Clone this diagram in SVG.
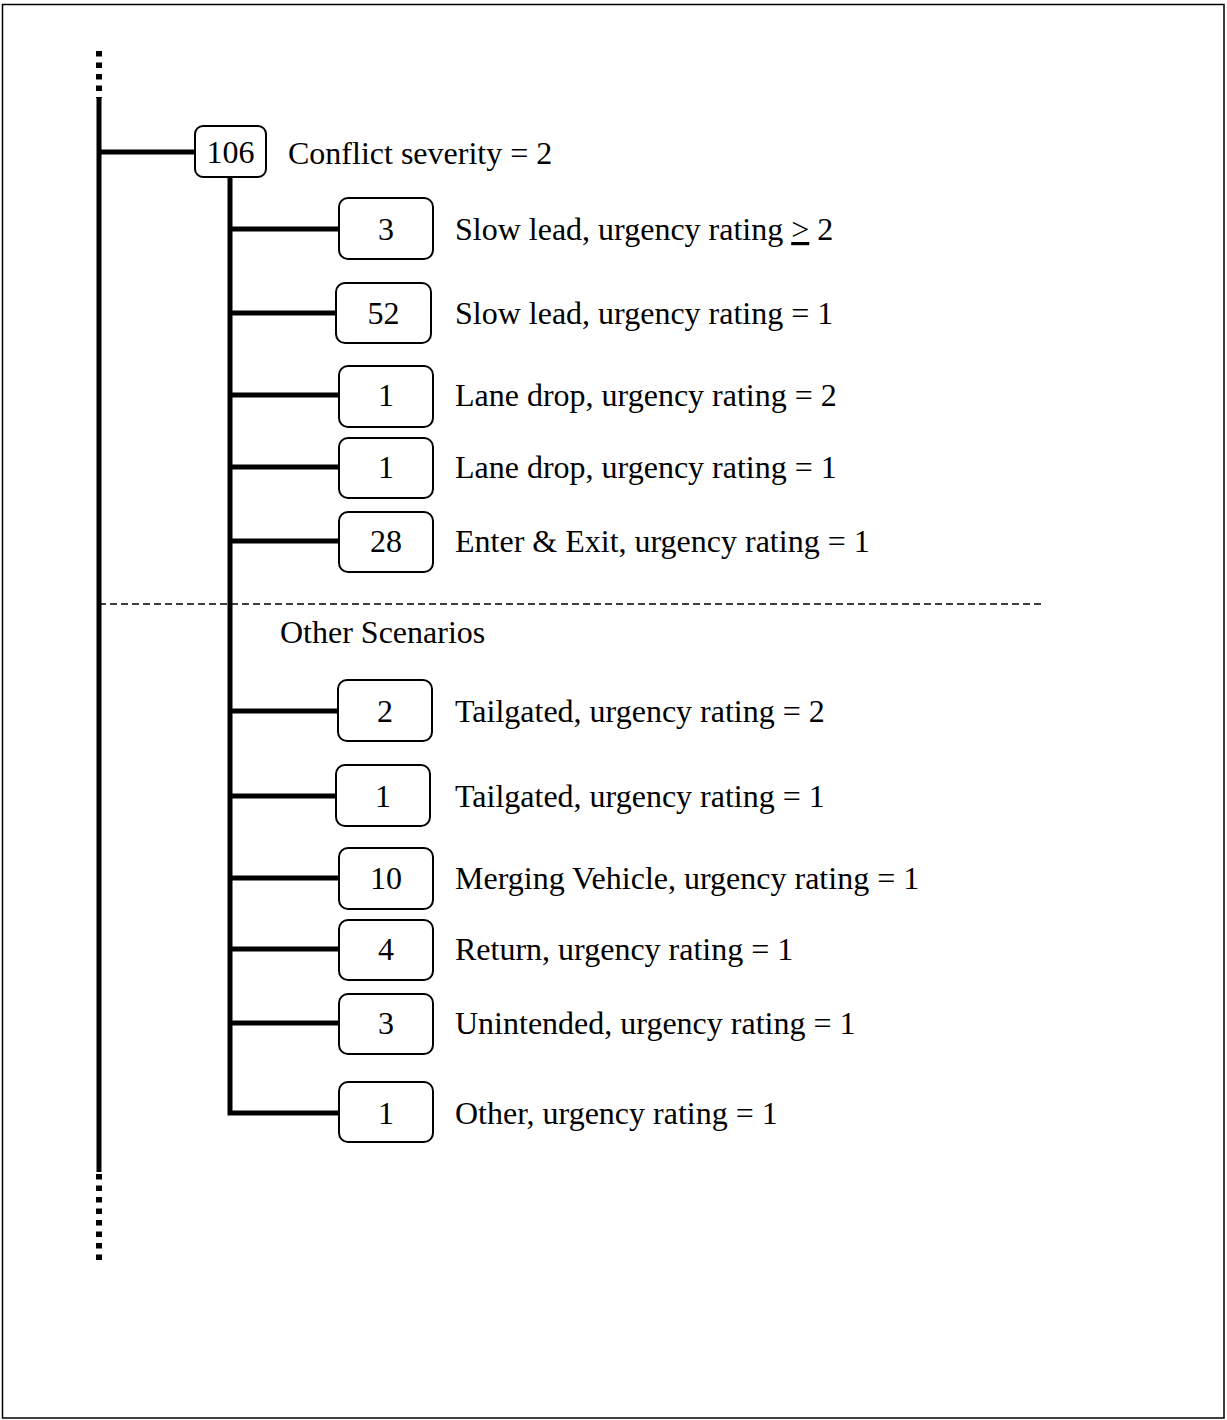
<svg xmlns="http://www.w3.org/2000/svg" width="1227" height="1420" viewBox="0 0 1227 1420">
<style>
.t{font-family:"Liberation Serif","Times New Roman",serif;font-size:32px;fill:#000}
.n{font-family:"Liberation Serif","Times New Roman",serif;font-size:32px;fill:#000;text-anchor:middle}
.box{fill:#fff;stroke:#000;stroke-width:2}
.ln{fill:none;stroke:#000;stroke-width:5}
.dot{fill:none;stroke:#000;stroke-width:6;stroke-dasharray:5.5 6}
</style>
<rect x="2.5" y="4.5" width="1221.5" height="1413.5" fill="#fff" stroke="#000" stroke-width="1.5"/>
<g id="connectors">
<line class="dot" x1="99" y1="51" x2="99" y2="98"/>
<line class="ln" x1="99" y1="98" x2="99" y2="1172" stroke-width="6"/>
<line class="dot" x1="99" y1="1174" x2="99" y2="1264"/>
<line class="ln" x1="99" y1="152" x2="196" y2="152"/>
<polyline class="ln" points="230,177 230,1113 340,1113" stroke-width="6"/>
<line class="ln" x1="230" y1="229" x2="340" y2="229"/>
<line class="ln" x1="230" y1="313" x2="337" y2="313"/>
<line class="ln" x1="230" y1="395" x2="340" y2="395"/>
<line class="ln" x1="230" y1="467" x2="340" y2="467"/>
<line class="ln" x1="230" y1="541" x2="340" y2="541"/>
<line class="ln" x1="230" y1="711" x2="339" y2="711"/>
<line class="ln" x1="230" y1="796" x2="337" y2="796"/>
<line class="ln" x1="230" y1="878" x2="340" y2="878"/>
<line class="ln" x1="230" y1="949" x2="340" y2="949"/>
<line class="ln" x1="230" y1="1023" x2="340" y2="1023"/>
<line x1="99" y1="604" x2="1044" y2="604" stroke="#000" stroke-width="1.5" stroke-dasharray="7 4"/>
</g>
<g id="n106"><rect class="box" x="195" y="126" width="71" height="51" rx="8"/><text class="n" x="230.5" y="163">106</text><text class="t" x="288" y="164">Conflict severity = 2</text></g>
<g id="n3a"><rect class="box" x="339" y="198" width="94" height="61" rx="9"/><text class="n" x="386" y="240">3</text><text class="t" x="455" y="240">Slow lead, urgency rating <tspan text-decoration="underline">&gt;</tspan> 2</text></g>
<g id="n52"><rect class="box" x="336" y="283" width="95" height="60" rx="9"/><text class="n" x="383.5" y="324">52</text><text class="t" x="455" y="324">Slow lead, urgency rating = 1</text></g>
<g id="n1a"><rect class="box" x="339" y="366" width="94" height="61" rx="9"/><text class="n" x="386" y="406">1</text><text class="t" x="455" y="406">Lane drop, urgency rating = 2</text></g>
<g id="n1b"><rect class="box" x="339" y="438" width="94" height="60" rx="9"/><text class="n" x="386" y="478">1</text><text class="t" x="455" y="478">Lane drop, urgency rating = 1</text></g>
<g id="n28"><rect class="box" x="339" y="512" width="94" height="60" rx="9"/><text class="n" x="386" y="552">28</text><text class="t" x="455" y="552">Enter &amp; Exit, urgency rating = 1</text></g>
<g id="other"><text class="t" x="280" y="643">Other Scenarios</text></g>
<g id="n2"><rect class="box" x="338" y="680" width="94" height="61" rx="9"/><text class="n" x="385" y="722">2</text><text class="t" x="455" y="722">Tailgated, urgency rating = 2</text></g>
<g id="n1c"><rect class="box" x="336" y="765" width="94" height="61" rx="9"/><text class="n" x="383" y="807">1</text><text class="t" x="455" y="807">Tailgated, urgency rating = 1</text></g>
<g id="n10"><rect class="box" x="339" y="848" width="94" height="61" rx="9"/><text class="n" x="386" y="889">10</text><text class="t" x="455" y="889">Merging Vehicle, urgency rating = 1</text></g>
<g id="n4"><rect class="box" x="339" y="920" width="94" height="60" rx="9"/><text class="n" x="386" y="960">4</text><text class="t" x="455" y="960">Return, urgency rating = 1</text></g>
<g id="n3b"><rect class="box" x="339" y="994" width="94" height="60" rx="9"/><text class="n" x="386" y="1034">3</text><text class="t" x="455" y="1034">Unintended, urgency rating = 1</text></g>
<g id="n1d"><rect class="box" x="339" y="1082" width="94" height="60" rx="9"/><text class="n" x="386" y="1124">1</text><text class="t" x="455" y="1124">Other, urgency rating = 1</text></g>
</svg>
